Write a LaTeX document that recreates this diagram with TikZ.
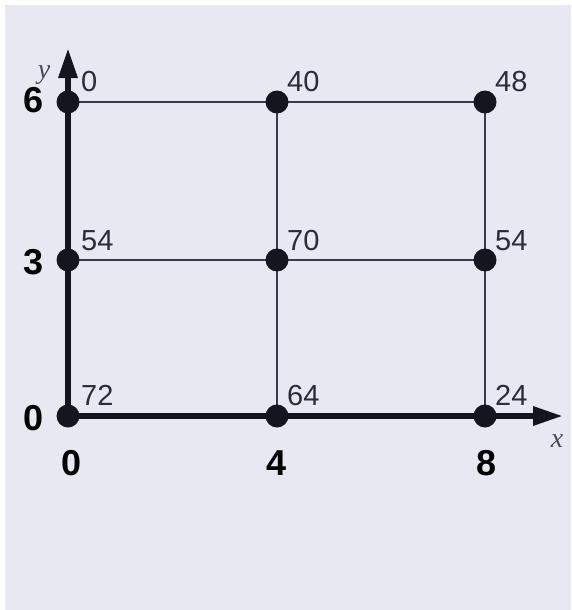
\documentclass[tikz,border=0pt]{standalone}
\usepackage{fontspec}
\setmainfont{Liberation Sans}
\newfontfamily\axserif{Liberation Serif}
\usetikzlibrary{arrows.meta,backgrounds}
\definecolor{bg}{HTML}{E8E8F3}
\definecolor{ink}{HTML}{15151F}
\definecolor{gridc}{HTML}{3A3A4C}
\definecolor{lab}{HTML}{2C2C38}
\definecolor{axl}{HTML}{4A4A58}
\begin{document}
\begin{tikzpicture}[x=1pt,y=-1pt,
  dot/.style={circle,fill=ink,minimum size=23pt,inner sep=0pt},
  gridline/.style={draw=gridc,line width=2pt},
  axis/.style={draw=ink,line width=6pt,-{Triangle[length=30pt,width=18pt]}},
  val/.style={anchor=base west,inner sep=0pt,text=lab,font=\fontsize{29}{32}\selectfont},
  tick/.style={anchor=base,inner sep=0pt,text=black,font=\fontsize{36}{40}\selectfont\bfseries},
  axlab/.style={anchor=base,inner sep=0pt,text=axl,font=\fontsize{28}{30}\selectfont\axserif\itshape}]
\useasboundingbox (0,0) rectangle (571,610);
% dots
\node[dot] (a00) at (68,416) {};
\node[dot] (a40) at (277,416) {};
\node[dot] (a80) at (485,416) {};
\node[dot] (a03) at (68,260) {};
\node[dot] (a43) at (277,260) {};
\node[dot] (a83) at (485,260) {};
\node[dot] (a06) at (68,102) {};
\node[dot] (a46) at (277,102) {};
\node[dot] (a86) at (485,102) {};
\coordinate (ytip) at (68,48);
\coordinate (xtip) at (563,416);
\begin{scope}[on background layer]
  \fill[white] (0,0) rectangle (571,610);
  \fill[bg] (5,5) rectangle (571,610);
  \draw[gridline] (a06.center) -- (a46.center) -- (a86.center);
  \draw[gridline] (a03.center) -- (a43.center) -- (a83.center);
  \draw[gridline] (a46.center) -- (a43.center) -- (a40.center);
  \draw[gridline] (a86.center) -- (a83.center) -- (a80.center);
  \draw[axis] (a00.center) -- (ytip);
  \draw[axis] (a00.center) -- (xtip);
\end{scope}
% values
\node[val] (v00) at (81,405) {72};
\node[val] (v03) at (81,250) {54};
\node[val] (v06) at (81,92) {0};
\node[val] (v40) at (287,405) {64};
\node[val] (v43) at (287,250) {70};
\node[val] (v46) at (287,92) {40};
\node[val] (v80) at (495,405) {24};
\node[val] (v83) at (495,250) {54};
\node[val] (v86) at (495,92) {48};
% ticks
\node[tick] (t6) at (34,112) {6};
\node[tick] (t3) at (34,274) {3};
\node[tick] (t0) at (34,430) {0};
\node[tick] (b0) at (72,475) {0};
\node[tick] (b4) at (277,475) {4};
\node[tick] (b8) at (487,475) {8};
% axis labels
\node[axlab] (ly) at (44,78) {y};
\node[axlab] (lx) at (557,447) {x};
\end{tikzpicture}
\end{document}
